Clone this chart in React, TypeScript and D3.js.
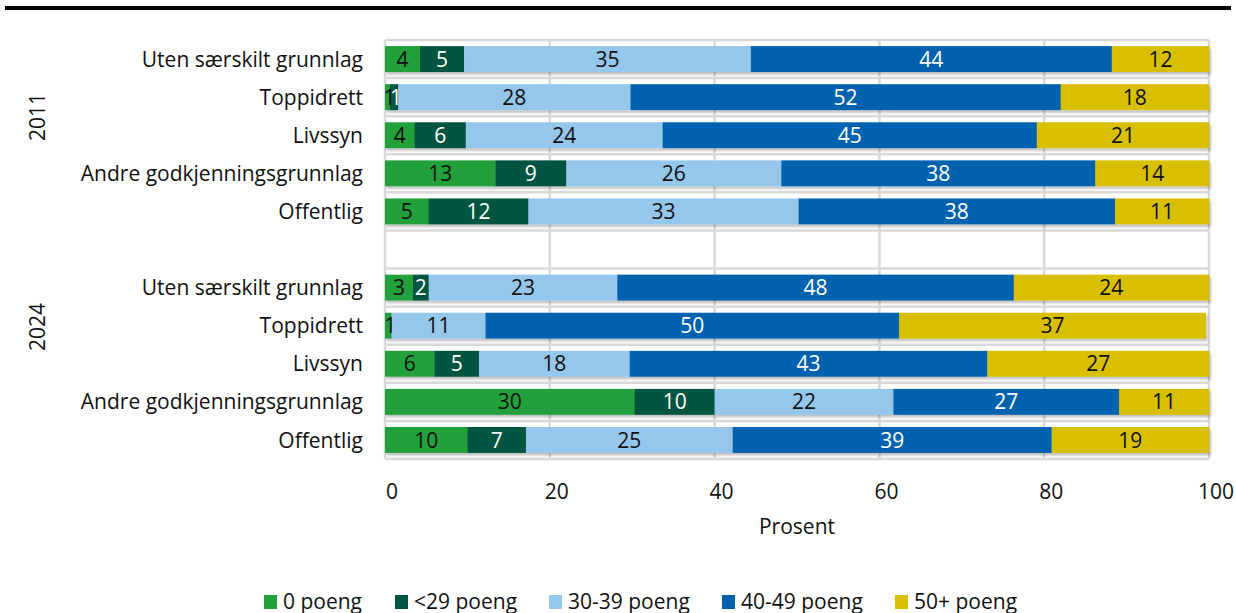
import React from "react";
import * as d3 from "d3";

const seriesNames = ["0 poeng", "<29 poeng", "30-39 poeng", "40-49 poeng", "50+ poeng"];
const seriesColors = ["#23a03b", "#005440", "#95c6ec", "#0062ae", "#d8bf00"];
const labelColors = ["#111", "#fff", "#111", "#fff", "#111"];

const categories = ["Uten særskilt grunnlag", "Toppidrett", "Livssyn", "Andre godkjenningsgrunnlag", "Offentlig"];
const years = ["2011", "2024"];

// rows: [0 poeng, <29, 30-39, 40-49, 50+]
const values2011 = [
  [4.25, 5.35, 34.8, 43.8, 11.8],
  [0.6, 1.0, 28.2, 52.2, 18.0],
  [3.6, 6.2, 23.9, 45.4, 20.9],
  [13.4, 8.6, 26.1, 38.1, 13.8],
  [5.3, 12.1, 32.8, 38.4, 11.4],
];
const values2024 = [
  [3.4, 1.9, 22.9, 48.1, 23.7],
  [0.8, 0, 11.4, 50.2, 37.2],
  [6.0, 5.4, 18.3, 43.4, 26.9],
  [30.3, 9.7, 21.7, 27.4, 10.9],
  [10.0, 7.1, 25.1, 38.7, 19.1],
];
const xTicks = [0, 20, 40, 60, 80, 100];

const FONT = "'Open Sans', 'Noto Sans', sans-serif";
const FS = 21;

export default function App() {
  const W = 1236, H = 613;
  const left = 385, right = 1209, top = 40, bottom = 459;

  const rowKeys: string[] = [];
  categories.forEach((c) => rowKeys.push("2011|" + c));
  rowKeys.push("gap");
  categories.forEach((c) => rowKeys.push("2024|" + c));

  const x = d3.scaleLinear().domain([0, 100]).range([left, right]);
  const y = d3.scaleBand<string>().domain(rowKeys).range([top, bottom]).paddingInner(0.32).paddingOuter(0.16);
  const step = y.step();

  type Row = { key: string; cat: string; vals: number[] };
  const rows: Row[] = [];
  categories.forEach((c, i) => rows.push({ key: "2011|" + c, cat: c, vals: values2011[i] }));
  categories.forEach((c, i) => rows.push({ key: "2024|" + c, cat: c, vals: values2024[i] }));

  const boundaries = d3.range(0, rowKeys.length + 1).map((i) => top + i * step);

  const yearCenters = [117, 327];

  const legendX = [264, 395, 549, 722, 895];

  return (
    <div style={{ position: "absolute", left: 0, top: 0 }}>
      <svg width={W} height={H} style={{ display: "block", background: "#fff" }} fontFamily={FONT}>
        <defs>
          <filter id="sh" x="-5%" y="-20%" width="110%" height="160%">
            <feDropShadow dx="1.5" dy="2.5" stdDeviation="1" floodColor="#000" floodOpacity="0.25" />
          </filter>
        </defs>
        <line x1={5} x2={1231} y1={8} y2={8} stroke="#000" strokeWidth={4} />
        {boundaries.map((b, i) => (
          <line key={"h" + i} x1={left} x2={right} y1={b} y2={b} stroke="#d9d9d9" strokeWidth={2.5} />
        ))}
        {xTicks.map((t) => (
          <line key={"v" + t} x1={x(t)} x2={x(t)} y1={top} y2={bottom} stroke="#d9d9d9" strokeWidth={2.5} />
        ))}
        {rows.map((r) => {
          let acc = 0;
          const y0 = y(r.key)!;
          const bh = y.bandwidth();
          const segs = r.vals.map((v, si) => {
            const s = acc;
            acc += v;
            return { s, e: acc, v, si };
          });
          return (
            <g key={r.key}>
              <g filter="url(#sh)">
                {segs.map((sg) =>
                  sg.v > 0 ? (
                    <rect key={sg.si} x={x(sg.s)} y={y0} width={x(sg.e) - x(sg.s) + 0.3} height={bh} fill={seriesColors[sg.si]} />
                  ) : null
                )}
              </g>
              {segs.map((sg) =>
                sg.v > 0 ? (
                  <text
                    key={"t" + sg.si}
                    x={(x(sg.s) + x(sg.e)) / 2 + (sg.v < 1.5 ? 2 : 0)}
                    y={y0 + bh / 2}
                    dy="0.36em"
                    textAnchor="middle"
                    fontSize={FS}
                    fill={labelColors[sg.si]}
                  >
                    {Math.round(sg.v)}
                  </text>
                ) : null
              )}
              <text x={363} y={y0 + bh / 2} dy="0.36em" textAnchor="end" fontSize={FS} fill="#111">
                {r.cat}
              </text>
            </g>
          );
        })}
        {years.map((yr, i) => (
          <text key={yr} transform={`translate(45,${yearCenters[i]}) rotate(-90)`} textAnchor="middle" fontSize={FS} fill="#111">
            {yr}
          </text>
        ))}
        {xTicks.map((t) => (
          <text key={"xt" + t} x={x(t) + 7} y={499} textAnchor="middle" fontSize={FS} fill="#111">
            {t}
          </text>
        ))}
        <text x={797} y={534} textAnchor="middle" fontSize={FS} fill="#111">
          Prosent
        </text>
        {seriesNames.map((n, i) => (
          <g key={n}>
            <rect x={legendX[i]} y={595} width={13} height={14} fill={seriesColors[i]} />
            <text x={legendX[i] + 19} y={609} fontSize={FS} fill="#111">
              {n}
            </text>
          </g>
        ))}
      </svg>
    </div>
  );
}
